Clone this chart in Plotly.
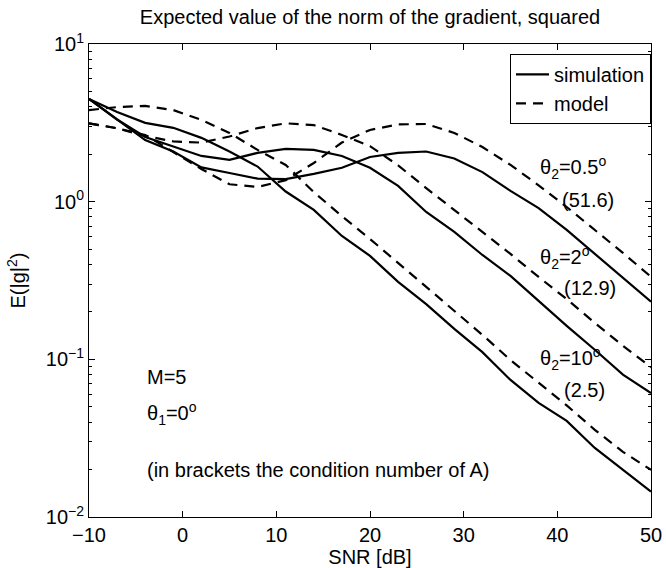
import plotly.graph_objects as go

snr = [-10, -7, -4, -1, 2, 5, 8, 11, 14, 17, 20, 23, 26, 29, 32, 35, 38, 41, 44, 47, 50]

sim_05 = [4.48, 3.32, 2.46, 2.08, 1.65, 1.52, 1.40, 1.39, 1.50, 1.64, 1.92, 2.04, 2.08, 1.88, 1.54, 1.17, 0.91, 0.662, 0.466, 0.328, 0.232]
model_05 = [3.14, 2.92, 2.65, 2.06, 1.61, 1.29, 1.24, 1.37, 1.76, 2.37, 2.85, 3.09, 3.11, 2.73, 2.22, 1.71, 1.27, 0.925, 0.662, 0.473, 0.334]
sim_2 = [4.48, 3.32, 2.57, 2.23, 1.95, 1.84, 2.04, 2.16, 2.13, 1.95, 1.64, 1.26, 0.86, 0.643, 0.459, 0.338, 0.235, 0.163, 0.115, 0.080, 0.061]
model_2 = [3.14, 2.92, 2.61, 2.41, 2.37, 2.59, 2.93, 3.14, 3.06, 2.65, 2.25, 1.70, 1.22, 0.886, 0.647, 0.466, 0.333, 0.241, 0.170, 0.122, 0.089]
sim_10 = [4.48, 3.71, 3.16, 2.94, 2.54, 2.08, 1.67, 1.16, 0.886, 0.606, 0.453, 0.31, 0.224, 0.156, 0.111, 0.074, 0.053, 0.0407, 0.0274, 0.0199, 0.0145]
model_10 = [3.81, 3.98, 4.05, 3.81, 3.30, 2.73, 2.13, 1.71, 1.15, 0.81, 0.58, 0.41, 0.29, 0.203, 0.143, 0.099, 0.071, 0.051, 0.0357, 0.0259, 0.0199]

y_tickvals = [0.01, 0.1, 1, 10]
y_ticktext = ["10<sup>\u22122</sup>", "10<sup>\u22121</sup>", "10<sup>0</sup>", "10<sup>1</sup>"]
y_minor = [m * d for d in [0.01, 0.1, 1] for m in range(2, 10)]
x_tickvals = [-10, 0, 10, 20, 30, 40, 50]

FONT = "Liberation Sans, Arial, Helvetica, sans-serif"
FS = 20
LW = 2.2
DASH = "10px,7px"

fig = go.Figure()
series = [
    (sim_05, "solid", "simulation", True),
    (model_05, DASH, "model", True),
    (sim_2, "solid", "simulation", False),
    (model_2, DASH, "model", False),
    (sim_10, "solid", "simulation", False),
    (model_10, DASH, "model", False),
]
for ys, dash, name, show in series:
    fig.add_trace(go.Scatter(x=snr, y=ys, mode="lines", name=name, showlegend=show,
                             line=dict(color="black", width=LW, dash=dash)))

axis_common = dict(showgrid=False, zeroline=False, showline=True, linecolor="black",
                   linewidth=1, mirror="ticks", ticks="inside", tickcolor="black",
                   automargin=False,
                   tickfont=dict(family=FONT, size=FS, color="black"))

fig.update_layout(
    width=666, height=568,
    margin=dict(l=89, r=15, t=44, b=51),
    paper_bgcolor="white", plot_bgcolor="white",
    font=dict(family=FONT, size=FS, color="black"),
    title=dict(text="Expected value of the norm of the gradient, squared",
               x=0.5, xref="paper", xanchor="center", y=1 - 17 / 568, yanchor="middle",
               font=dict(family=FONT, size=FS, color="black")),
    xaxis=dict(range=[-10, 50], tickvals=x_tickvals, ticklen=6,
               title=dict(text="SNR [dB]", standoff=2, font=dict(size=FS)), **axis_common),
    yaxis=dict(type="log", range=[-2, 1], tickvals=y_tickvals, ticktext=y_ticktext, ticklen=6,
               minor=dict(tickmode="array", tickvals=y_minor, ticks="inside", ticklen=3, tickcolor="black"),
               title=dict(text="E(|g|<sup>2</sup>)", standoff=14, font=dict(size=FS)), **axis_common),
    legend=dict(x=1, xanchor="right", y=0.979, yanchor="top", bordercolor="black", borderwidth=1,
                bgcolor="white", font=dict(family=FONT, size=FS, color="black"),
                tracegroupgap=0, itemwidth=33),
    showlegend=True,
)

annots = [
    ("\u03b8<sub>2</sub>=0.5<sup>o</sup>", 538, 167),
    ("(51.6)", 560, 200),
    ("\u03b8<sub>2</sub>=2<sup>o</sup>", 538, 257),
    ("(12.9)", 562, 288),
    ("\u03b8<sub>2</sub>=10<sup>o</sup>", 538, 358),
    ("(2.5)", 562, 390),
    ("M=5", 145, 377),
    ("\u03b8<sub>1</sub>=0<sup>o</sup>", 145, 413),
    ("(in brackets the condition number of A)", 145, 470),
]
L, R, T, B = 89, 651, 44, 517
for text, px, py in annots:
    fig.add_annotation(text=text, x=(px - L) / (R - L), y=1 - (py - T) / (B - T),
                       xref="paper", yref="paper", xanchor="left", yanchor="middle",
                       showarrow=False, font=dict(family=FONT, size=FS, color="black"))

fig.write_html("out.html")
